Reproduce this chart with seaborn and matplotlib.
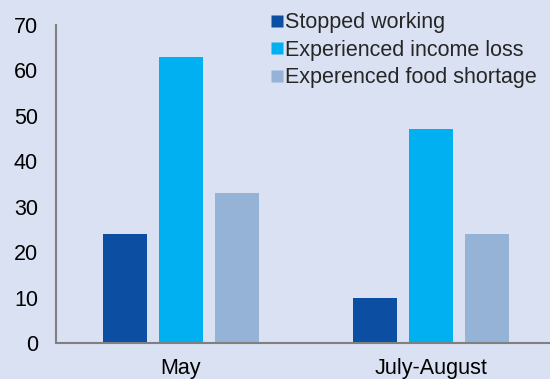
import matplotlib
matplotlib.use("Agg")
import matplotlib.pyplot as plt
from matplotlib.lines import Line2D
import seaborn as sns
import pandas as pd

periods = ["May", "July-August"]
series = ["Stopped working", "Experienced income loss", "Experenced food shortage"]
stopped_working = [24, 10]
income_loss = [63, 47]
food_shortage = [33, 24]
colors = ["#0B4EA2", "#00B0F0", "#95B3D7"]
bg = "#D9E1F2"

rows = []
for name, vals in zip(series, [stopped_working, income_loss, food_shortage]):
    for p, v in zip(periods, vals):
        rows.append({"period": p, "series": name, "value": v})
df = pd.DataFrame(rows)

sns.set_style("white")
plt.rcParams["font.family"] = ["Liberation Sans", "DejaVu Sans"]

fig = plt.figure(figsize=(5.5, 3.79), dpi=100, facecolor=bg)
ax = fig.add_axes([0.1018, 0.095, 0.8982, 0.839])
ax.set_facecolor(bg)

sns.barplot(data=df, x="period", y="value", hue="series", order=periods,
            hue_order=series, palette=colors, width=0.672, gap=0.214,
            ax=ax, legend=False, saturation=1, edgecolor="none")

ax.set_xlim(-0.5, 1.476)
ax.set_ylim(0, 70)
ax.set_yticks(range(0, 71, 10))
ax.set_xlabel("")
ax.set_ylabel("")

# category separators as major ticks, names as minor tick labels
ax.set_xticks([-0.5, 0.5])
ax.set_xticklabels([])
ax.set_xticks([0, 1], minor=True)
ax.set_xticklabels(periods, minor=True)
ax.tick_params(axis="x", which="major", direction="in", length=5, width=1.2, color="#808080")
ax.tick_params(axis="x", which="minor", length=0, pad=11, labelsize=15.5, labelcolor="black")
ax.tick_params(axis="y", direction="in", length=5, width=1.2, color="#808080",
               pad=13, labelsize=15.5, labelcolor="black")

for s in ["top", "right"]:
    ax.spines[s].set_visible(False)
for s in ["left", "bottom"]:
    ax.spines[s].set_color("#808080")
    ax.spines[s].set_linewidth(1.5)

handles = [Line2D([0], [0], marker="s", linestyle="none", markersize=8.5,
                  markerfacecolor=c, markeredgecolor="none") for c in colors]
ax.legend(handles, series, loc="upper right", bbox_to_anchor=(1.0, 1.08),
          frameon=False, fontsize=15.5, handlelength=0.5, handletextpad=0.15,
          labelspacing=0.3, borderaxespad=0.2)

fig.savefig("out.png", dpi=100, facecolor=bg)
